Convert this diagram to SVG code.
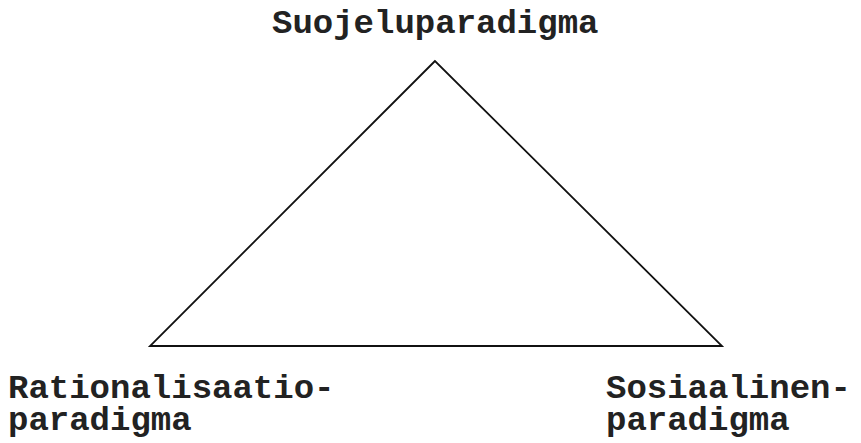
<svg xmlns="http://www.w3.org/2000/svg" width="861" height="443" viewBox="0 0 861 443">
<style>
text{font-family:"Liberation Mono","Courier New",monospace;font-weight:bold;font-size:34px;fill:#222}
.edge{fill:none;stroke:#111;stroke-width:1.8;stroke-linejoin:miter}
</style>
<rect width="861" height="443" fill="#fff"/>
<g id="connectors">
<polygon class="edge" points="435,61 150,346 722,346"/>
</g>
<g id="node-suojelu"><text x="272" y="33">Suojeluparadigma</text></g>
<g id="node-rationalisaatio"><text x="8" y="398">Rationalisaatio-</text><text x="8" y="430">paradigma</text></g>
<g id="node-sosiaalinen"><text x="606" y="398">Sosiaalinen-</text><text x="606" y="430">paradigma</text></g>
</svg>
